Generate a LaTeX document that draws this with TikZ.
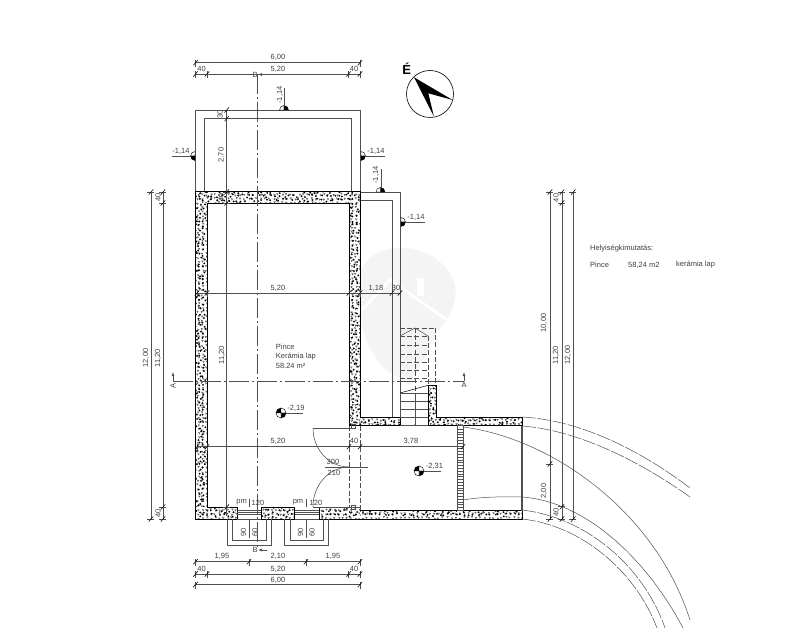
\documentclass[tikz,border=0pt]{standalone}
\usepackage{fontspec}
\setmainfont{Liberation Sans}
\usetikzlibrary{arrows.meta}
\definecolor{dimc}{HTML}{505050}
\definecolor{txtc}{HTML}{404040}
\definecolor{wm}{HTML}{F4F4F4}
\tikzset{
  lab/.style={font=\fontsize{7.5}{8}\selectfont,text=txtc,inner sep=0pt,anchor=center},
  dimline/.style={draw=dimc,line width=.55pt},
  wallout/.style={draw=black,line width=.9pt},
  thinwall/.style={draw=dimc,line width=.8pt},
  axisline/.style={draw=dimc,line width=.6pt,dash pattern=on 20pt off 3pt on 2pt off 3pt},
  hidden/.style={draw=dimc,line width=.55pt,dash pattern=on 5pt off 2.2pt},
  arcdash/.style={draw=dimc,line width=.5pt,dash pattern=on 14pt off 1.5pt},
  arcsolid/.style={draw=dimc,line width=.5pt},
  tread/.style={draw=dimc,line width=.5pt},
}
\newcommand\tkh[2]{\draw[dimline] (#1,#2-3)--(#1,#2+4); \draw[dimline,draw=black] (#1-2.2,#2+2.6)--(#1+2.2,#2-2.6);}
\newcommand\tkv[2]{\draw[dimline] (#1-4,#2)--(#1+3,#2); \draw[dimline,draw=black] (#1-2.2,#2+2.6)--(#1+2.2,#2-2.6);}
\newcommand\qd[7]{\filldraw[fill=#7,draw=black,line width=.4pt] (#1,#2)--(#1+#3,#2+#4) .. controls (#1+#3+.55*#5,#2+#4+.55*#6) and (#1+#5+.55*#3,#2+#6+.55*#4) .. (#1+#5,#2+#6)--cycle;}
\newcommand\stonerect[4]{%
  \begin{scope}
    \fill[white] (#1,#3) rectangle (#2,#4);
    \clip (#1,#3) rectangle (#2,#4);
    \pgfmathsetmacro\xb{#1+4.2}\pgfmathsetmacro\yb{#3+4.2}
    \foreach \xx in {#1,\xb,...,#2}{
      \foreach \yy in {#3,\yb,...,#4}{
        \fill (\xx+1.6*rand,\yy+1.6*rand) circle (1.05pt);
        \draw[line width=.35pt,draw=dimc] (\xx+2.1+rand,\yy+2.1+rand)--++(1.6,.3)--++(-1,1.3)--cycle;
      }
    }
  \end{scope}}
\begin{document}
\begin{tikzpicture}[x=1pt,y=-1pt]
\useasboundingbox (0,0) rectangle (800,628);
\fill[white] (0,0) rectangle (800,628);
\pgfmathsetseed{4242}
% watermark
\fill[wm] (395,248) .. controls (425,246) and (448,262) .. (455,285) .. controls (458,305) and (448,320) .. (437,332) -- (410,385) -- (383,368) .. controls (370,350) and (361,335) .. (361,315) -- (361,270) .. controls (370,255) and (380,250) .. (395,248) -- cycle;
\draw[white,line width=3pt] (362,310) -- (390,280) -- (447,320);
\fill[white] (417,278) rectangle (424,296);

% upper thin outlines
\draw[thinwall] (195.5,192) -- (195.5,110) -- (360,110) -- (360,192);
\draw[thinwall] (204.5,192) -- (204.5,118.7) -- (351.5,118.7) -- (351.5,192);
\draw[thinwall] (360,192) -- (400,192) -- (400,417);
\draw[thinwall] (360,200) -- (392,200) -- (392,417);

% walls
\stonerect{195.5}{207}{191.7}{519}
\stonerect{195.5}{360}{191.7}{203}
\stonerect{349}{360}{191.7}{425.7}
\stonerect{349}{400}{417}{425.7}
\stonerect{428}{436}{385.7}{425.7}
\stonerect{428}{522.7}{417}{425.7}
\stonerect{195.5}{237}{507}{519}
\stonerect{261.3}{294.7}{507}{519}
\stonerect{319}{360}{507}{519}
\stonerect{360}{522.7}{510.7}{519}
\draw[wallout] (237,519) -- (195.5,519) -- (195.5,191.7) -- (360,191.7) -- (360,417) -- (400,417) -- (400,425.7) -- (360,425.7);
\draw[wallout] (349,425.7) -- (349,203) -- (207,203) -- (207,507) -- (237,507) -- (237,519);
\draw[wallout] (349,425.7) -- (360,425.7);
\draw[wallout] (428,425.7) -- (428,385.7) -- (436,385.7) -- (436,417) -- (522.7,417) -- (522.7,425.7) -- cycle;
\draw[wallout] (261.3,507) rectangle (294.7,519);
\draw[wallout] (319,519) -- (319,507) -- (349,507);
\draw[wallout] (360,510.7) -- (522.7,510.7) -- (522.7,519) -- (319,519);

% east thin end wall
\draw[thinwall,line width=1.2pt] (522,425.7) -- (522,510.7);

% ladder
\draw[thinwall] (457,425.7) rectangle (463,510.7);
\foreach \ly in {429,431.8,...,510}{\draw[tread,line width=.4pt] (457,\ly)--(463,\ly);}

% doors
\draw[dimline] (313,428) -- (356,428);
\draw[dimline] (313,428) .. controls (313,449.5) and (329,467) .. (349,467);
\draw[dimline] (313,507) .. controls (313,485) and (329,467) .. (349,467);
\draw[dimline] (313,507) -- (360,507);
\draw[dimline] (325,467) -- (368,467);
\draw[hidden] (349,425.7) -- (349,507);
\draw[hidden] (360,425.7) -- (360,510.7);
\draw[dimline] (351.5,424) rectangle (355,428);
\draw[dimline] (351.5,505) rectangle (355,509);

% windows
\foreach \wa/\wb in {237/261.3,294.7/319}{
  \draw[dimline] (\wa,510) -- (\wb,510);
  \draw[dimline] (\wa,512) -- (\wb,512);
  \draw[dimline] (\wa,514.5) -- (\wb,514.5);
  \draw[dimline] (\wa,519) -- (\wb,519);
}
\draw[thinwall] (227.3,519) -- (227.3,545.7) -- (271.3,545.7) -- (271.3,519);
\draw[thinwall] (232.7,519) -- (232.7,540.7) -- (266,540.7) -- (266,519);
\draw[thinwall] (284.7,519) -- (284.7,545.7) -- (328.7,545.7) -- (328.7,519);
\draw[thinwall] (290,519) -- (290,540.7) -- (323,540.7) -- (323,519);
\draw[dimline] (249,498.5) -- (249,507) (249,519) -- (249,538);
\draw[dimline] (306,498.5) -- (306,507) (306,519) -- (306,538);
\node[lab] (pmA) at (241.7,502.5) {pm};
\node[lab] (oneA) at (258,502.5) {120};
\node[lab] (pmB) at (298,502.5) {pm};
\node[lab] (oneB) at (316,502.5) {120};
\node[lab,rotate=90] (nineA) at (243.5,532) {90};
\node[lab,rotate=90] (sixA) at (255,532) {60};
\node[lab,rotate=90] (nineB) at (300.5,532) {90};
\node[lab,rotate=90] (sixB) at (312,532) {60};

% stair
\draw[hidden] (400,328) -- (435.7,328);
\draw[hidden] (435.7,328) -- (435.7,385.7);
\draw[hidden] (428,336) -- (428,385.7);
\draw[hidden] (415,328) -- (415,393);
\foreach \sy in {336,345,354,362,370,378}{\draw[hidden] (400,\sy) -- (428,\sy);}
\draw[dimline] (400,336) -- (415,328) -- (428,336);
\draw[tread,draw=black] (400,393) -- (428,385.3);
\foreach \sy in {393,401,409,417}{\draw[tread] (400,\sy) -- (428,\sy);}
\draw[tread] (415,393) -- (415,425);
\fill[dimc] (415,425) circle (.9pt);
\draw[tread] (400,425.7) -- (428,425.7);

% curved outlines
\draw[arcdash] (522,417) .. controls (580,420) and (640,450) .. (690,488);
\draw[arcdash] (522,426) .. controls (575,430) and (635,458) .. (690,497);
\draw[arcsolid] (463,427) .. controls (550,438) and (655,510) .. (690,620);
\draw[arcsolid] (463,500) .. controls (480,497) and (500,496.5) .. (522,497) .. controls (590,502) and (650,565) .. (683,628);
\draw[arcdash] (522,510) .. controls (590,518) and (645,570) .. (665,628);
\draw[arcdash] (522,519) .. controls (580,525) and (635,570) .. (657,628);

% axes
\draw[axisline] (257.5,74) -- (257.5,550);
\draw[axisline] (173,381) -- (464,381);
\node[lab] (bTop) at (255,74.5) {B};
\node[lab] (bBot) at (255,550) {B};
\draw[dimline,-{Latex[length=4pt,width=3pt]}] (267,74.5) -- (258,74.5);
\draw[dimline,-{Latex[length=4pt,width=3pt]}] (267,550) -- (258,550);
\node[lab,rotate=90] (aLeft) at (173,386) {A};
\node[lab] (aRight) at (464,385) {A};
\draw[dimline,-{Latex[length=4pt,width=3pt]}] (173,381) -- (173,372);
\draw[dimline,-{Latex[length=4pt,width=3pt]}] (464,381) -- (464,372);

% top dimensions
\draw[dimline] (195.5,62.7) -- (360,62.7);
\tkh{195.5}{62.7}\tkh{360}{62.7}
\draw[dimline] (195.5,74) -- (360,74);
\tkh{195.5}{74}\tkh{207}{74}\tkh{348.6}{74}\tkh{360}{74}
\node[lab] (dA) at (278,57) {6,00};
\node[lab] (dB) at (278,69) {5,20};
\node[lab] (dC) at (201.5,69) {40};
\node[lab] (dD) at (354,69) {40};

% bottom dimensions
\draw[dimline] (195.5,561.7) -- (360,561.7);
\tkh{195.5}{561.7}\tkh{249}{561.7}\tkh{306}{561.7}\tkh{360}{561.7}
\draw[dimline] (195.5,574) -- (360,574);
\tkh{195.5}{574}\tkh{207}{574}\tkh{348.6}{574}\tkh{360}{574}
\draw[dimline] (195.5,584.5) -- (360,584.5);
\tkh{195.5}{584.5}\tkh{360}{584.5}
\node[lab] (eA) at (222,556) {1,95};
\node[lab] (eB) at (278,556) {2,10};
\node[lab] (eC) at (333,556) {1,95};
\node[lab] (eD) at (201.5,569) {40};
\node[lab] (eE) at (278,569) {5,20};
\node[lab] (eF) at (354,569) {40};
\node[lab] (eG) at (278,580) {6,00};

% left dimensions
\draw[dimline] (151,192) -- (151,519);
\tkv{151}{192}\tkv{151}{519}
\draw[dimline] (163,192) -- (163,519);
\tkv{163}{192}\tkv{163}{203}\tkv{163}{507}\tkv{163}{519}
\node[lab,rotate=90] (fA) at (146,358) {12,00};
\node[lab,rotate=90] (fB) at (158,358) {11,20};
\node[lab,rotate=90] (fC) at (158,197.5) {40};
\node[lab,rotate=90] (fD) at (158,513) {40};

% right dimensions
\draw[dimline] (550,192) -- (550,519);
\tkv{550}{192}\tkv{550}{464}\tkv{550}{519}
\draw[dimline] (562,192) -- (562,519);
\tkv{562}{192}\tkv{562}{203}\tkv{562}{506.7}\tkv{562}{519}
\draw[dimline] (573.3,192) -- (573.3,519);
\tkv{573.3}{192}\tkv{573.3}{519}
\node[lab,rotate=90] (gA) at (544,323) {10,00};
\node[lab,rotate=90] (gB) at (544,491) {2,00};
\node[lab,rotate=90] (gC) at (556,355) {11,20};
\node[lab,rotate=90] (gD) at (556,198) {40};
\node[lab,rotate=90] (gE) at (556,512) {40};
\node[lab,rotate=90] (gF) at (568,355) {12,00};

% interior vertical dimension
\draw[dimline] (226.7,110) -- (226.7,516);
\tkv{226.7}{110}\tkv{226.7}{118.7}\tkv{226.7}{192}\tkv{226.7}{203}\tkv{226.7}{507}
\node[lab,rotate=90] (hA) at (220,114.5) {30};
\node[lab,rotate=90] (hB) at (221.5,155) {2,70};
\node[lab,rotate=90] (hC) at (222,355) {11,20};
\node[lab,rotate=90] (hD) at (221,197.5) {40};

% interior horizontal dimensions
\draw[dimline] (197,293) -- (400,293);
\tkh{207}{293}\tkh{197}{293}\tkh{349}{293}\tkh{360}{293}\tkh{392}{293}\tkh{400}{293}
\node[lab] (iA) at (278,288) {5,20};
\node[lab] (iB) at (376,288) {1,18};
\node[lab] (iC) at (396,288) {30};
\draw[dimline] (197,446.7) -- (463,446.7);
\tkh{207}{446.7}\tkh{197}{446.7}\tkh{349}{446.7}\tkh{360}{446.7}\tkh{463}{446.7}
\node[lab] (jA) at (278,441) {5,20};
\node[lab] (jB) at (354,441) {40};
\node[lab] (jC) at (411,441) {3,78};
\node[lab] (jD) at (333,461.5) {300};
\node[lab] (jE) at (334,473) {210};

% level marks on terrain
\qd{284}{110}{-4.5}{0}{0}{-4.5}{white}
\qd{284}{110}{4.5}{0}{0}{-4.5}{black}
\draw[dimline] (284,106) -- (284,88);
\node[lab,rotate=90] (kA) at (280,95) {-1,14};
\qd{195}{156}{0}{-4.5}{-4.5}{0}{white}
\qd{195}{156}{0}{4.5}{-4.5}{0}{black}
\draw[dimline] (191,156) -- (172,156);
\node[lab] (kB) at (181,151) {-1,14};
\qd{361}{156}{0}{-4.5}{4.5}{0}{white}
\qd{361}{156}{0}{4.5}{4.5}{0}{black}
\draw[dimline] (365,156) -- (385,156);
\node[lab] (kC) at (376,151) {-1,14};
\qd{380.5}{192}{-4.5}{0}{0}{-4.5}{white}
\qd{380.5}{192}{4.5}{0}{0}{-4.5}{black}
\draw[dimline] (381,188) -- (381,169);
\node[lab,rotate=90] (kD) at (376,175) {-1,14};
\qd{401}{222}{0}{-4.5}{4.5}{0}{white}
\qd{401}{222}{0}{4.5}{4.5}{0}{black}
\draw[dimline] (405,222) -- (425,222);
\node[lab] (kE) at (416,217) {-1,14};

% floor level marks
\qd{281}{413}{-5}{0}{0}{-5}{black}
\qd{281}{413}{5}{0}{0}{-5}{white}
\qd{281}{413}{5}{0}{0}{5}{black}
\qd{281}{413}{-5}{0}{0}{5}{white}
\draw[dimline] (286,413) -- (303,413);
\node[lab] (mA) at (296,408) {-2,19};
\qd{419}{471}{-5}{0}{0}{-5}{black}
\qd{419}{471}{5}{0}{0}{-5}{white}
\qd{419}{471}{5}{0}{0}{5}{black}
\qd{419}{471}{-5}{0}{0}{5}{white}
\draw[dimline] (424,471) -- (441,471);
\node[lab] (mB) at (434.5,466) {-2,31};

% room label
\node[lab,anchor=west] (rA) at (275.7,346.7) {Pince};
\node[lab,anchor=west] (rB) at (275.7,356.3) {Kerámia lap};
\node[lab,anchor=west] (rC) at (275.7,365.7) {58.24 m²};

% schedule
\node[lab,anchor=west] (sA) at (590,249) {Helyiségkimutatás:};
\node[lab,anchor=west] (sB) at (590,265) {Pince};
\node[lab,anchor=west] (sC) at (628,265) {58,24 m2};
\node[lab,anchor=west] (sD) at (676,265) {kerámia lap};

% north
\draw[black,line width=.6pt] (430,94) circle (23.5pt);
\fill[black] (414,77.3) -- (452.7,100) -- (428.3,93.3) -- (434,116.7) -- cycle;
\node[font=\fontsize{13}{14}\selectfont\bfseries,inner sep=0pt] (north) at (406.7,69) {É};
\end{tikzpicture}
\end{document}
